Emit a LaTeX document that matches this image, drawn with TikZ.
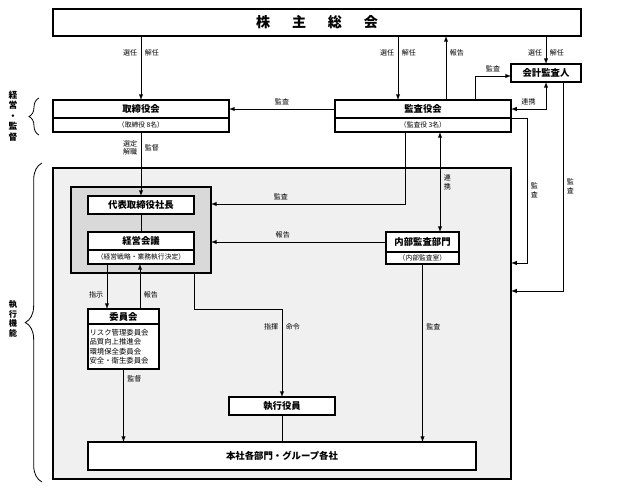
\documentclass[tikz,border=0pt]{standalone}
\usepackage{fontspec}
\setmainfont{Noto Sans CJK JP}
\usetikzlibrary{positioning}
\usetikzlibrary{calc}
\usetikzlibrary{decorations.pathreplacing}
\definecolor{execgray}{rgb}{0.94,0.94,0.94}
\definecolor{topgray}{rgb}{0.85,0.85,0.85}

\begin{document}
\begin{tikzpicture}[x=0.03cm, y=-0.03cm, >=latex,
    every node/.style={font=\fontsize{6}{7}\selectfont},
    box/.style={draw, line width=1pt, fill=white, inner sep=0pt, outer sep=0pt,
      minimum height=0.54cm, font=\fontsize{8}{9}\selectfont\bfseries},
    subbox/.style={draw, line width=1pt, fill=white, inner sep=0pt, outer sep=0pt,
      minimum height=0.42cm, font=\fontsize{5.8}{7}\selectfont},
    area/.style={draw, line width=1pt, inner sep=0pt, outer sep=0pt},
    lbl/.style={inner sep=3pt},
    vlbl/.style={inner sep=3pt, align=center, font=\fontsize{6}{7.7}\selectfont},
    link/.style={line width=0.7pt},
    sidetext/.style={align=center, font=\fontsize{7.5}{9}\selectfont\bfseries}]

  \useasboundingbox (0,0) rectangle (617,498);

  % executive area
  \node[area, fill=execgray, minimum width=13.74cm, minimum height=9.33cm] (execbox) at (282,323.5) {};
  \node[area, fill=topgray, minimum width=4.2cm, minimum height=2.58cm] (topbox) at (141,230) {};

  % governing bodies
  \node[box, minimum width=15.84cm, minimum height=0.81cm, font=\fontsize{12}{14}\selectfont\bfseries] (agm) at (317,22.5)
    {株\hspace{1.55em}主\hspace{1.55em}総\hspace{1.55em}会};
  \node[box, minimum width=5.28cm] (board) at (141,109) {取締役会};
  \node[subbox, minimum width=5.28cm, below=0pt of board] (boardsub) {（取締役 8名）};
  \node[box, minimum width=5.28cm] (auditboard) at (423,109) {監査役会};
  \node[subbox, minimum width=5.28cm, below=0pt of auditboard] (auditsub) {（監査役 3名）};
  \node[box, minimum width=2.1cm] (accaud) at (546,73) {会計監査人};

  % execution
  \node[box, minimum width=3.18cm] (pres) at (141,205) {代表取締役社長};
  \node[box, minimum width=3.18cm] (mgmt) at (141,241) {経営会議};
  \node[subbox, minimum width=3.18cm, below=0pt of mgmt] (mgmtsub) {（経営戦略・業務執行決定）};
  \node[box, minimum width=2.19cm, minimum height=0.6cm] (intaud) at (422.5,242) {内部監査部門};
  \node[subbox, minimum width=2.19cm, minimum height=0.36cm, below=0pt of intaud] (intaudsub) {（内部監査室）};
  \node[box, minimum width=2.13cm, minimum height=0.45cm] (comm) at (123.5,316.5) {委員会};
  \node[subbox, minimum width=2.13cm, minimum height=1.35cm, text width=2.04cm, align=left,
    font=\fontsize{6.3}{8}\selectfont, below=0pt of comm] (commsub)
    {リスク管理委員会\\品質向上推進会\\環境保全委員会\\安全・衛生委員会};
  \node[box, minimum width=3.18cm] (officers) at (282,406) {執行役員};
  \node[box, minimum width=11.64cm, minimum height=0.84cm] (depts) at (282,456) {本社各部門・グループ各社};

  \coordinate (toAudit) at ($(agm.south)+(81,0)$);
  \coordinate (toAgm) at ($(auditboard.north)+(23,0)$);
  \coordinate (toAcc) at ($(auditboard.north)+(52,0)$);
  \coordinate (auditA) at ($(auditsub.south)+(-18,0)$);
  \coordinate (auditB) at ($(auditsub.south)+(17,0)$);
  \coordinate (accB) at ($(accaud.south)+(17,0)$);
  \coordinate (cmdA) at ($(mgmtsub.south)+(-34,0)$);
  \coordinate (cmdB) at ($(comm.north)+(16.5,0)$);
  \coordinate (cmdC) at ($(topbox.south east)+(-17,0)$);

  % shareholders
  \draw[->, link] (agm.south -| board.north) -- node[lbl, left, pos=0.27] {選任} node[lbl, right, pos=0.27] {解任} (board.north);
  \draw[->, link] (toAudit) -- node[lbl, left, pos=0.27] {選任} node[lbl, right, pos=0.27] {解任} (toAudit |- auditboard.north);
  \draw[->, link] (toAgm) -- node[lbl, right, pos=0.73] {報告} (toAgm |- agm.south);
  \draw[->, link] (agm.south -| accaud.north) -- node[lbl, left, pos=0.6] {選任} node[lbl, right, pos=0.6] {解任} (accaud.north);

  % auditing
  \draw[->, link] (auditboard.west) -- node[lbl, above] {監査} (board.east);
  \draw[->, link] (toAcc) |- node[lbl, above, pos=0.75] {監査} ($(accaud.west)+(0,3)$);
  \draw[<->, link] (accaud.south) |- node[lbl, above, pos=0.75] {連携} (auditboard.east);
  \draw[->, link] (auditboard.south east) -- ++(16,0) |- node[vlbl, right, pos=0.25] {監\\査} ($(execbox.north east)+(0,95)$);
  \draw[->, link] (accB) |- node[vlbl, right, pos=0.25] {監\\査} ($(execbox.north east)+(0,123)$);
  \draw[->, link] (auditA) |- node[lbl, above, pos=0.82] {監査} ($(topbox.north east)+(0,17)$);
  \draw[<->, link] (auditB) -- node[vlbl, right] {連\\携} (auditB |- intaud.north);
  \draw[->, link] (intaud.west) -- node[lbl, above, pos=0.59] {報告} (intaud.west -| topbox.east);
  \draw[->, link] (intaudsub.south) -- node[lbl, right, pos=0.35] {監査} (intaudsub.south |- depts.north);

  % execution lines
  \draw[->, link] (boardsub.south) -- node[vlbl, left, pos=0.25, font=\fontsize{6}{7}\selectfont] {選定\\解職} node[lbl, right, pos=0.25] {監督} (pres.north);
  \draw[link] (pres.south) -- (mgmt.north);
  \draw[->, link] (cmdA) -- node[lbl, left, pos=0.69] {指示} (cmdA |- comm.north);
  \draw[->, link] (cmdB) -- node[lbl, right, pos=0.31] {報告} (cmdB |- mgmtsub.south);
  \draw[->, link] (cmdC) -- ++(0,36) -| node[lbl, left, pos=0.6] {指揮} node[lbl, right, pos=0.6] {命令} (officers.north);
  \draw[->, link] (commsub.south) -- node[lbl, right, pos=0.14] {監督} (commsub.south |- depts.north);
  \draw[link] (officers.south) -- (officers.south |- depts.north);

  % side braces
  \draw[link, decorate, decoration={brace, amplitude=0.3cm}] (39,135) -- (39,98);
  \node[sidetext] (mgmtlabel) at (13,116) {経\\営\\・\\監\\督};
  \draw[link, decorate, decoration={brace, amplitude=0.5cm}] (42,482) -- (42,163);
  \node[sidetext, font=\fontsize{7}{8.1}\selectfont\bfseries] (execlabel) at (13,319) {執\\行\\機\\能};
\end{tikzpicture}
\end{document}
